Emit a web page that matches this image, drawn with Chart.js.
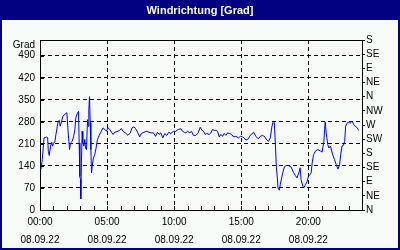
<!DOCTYPE html>
<html>
<head>
<meta charset="utf-8">
<script src="https://cdn.jsdelivr.net/npm/chart.js"></script>
<style>
  html, body { margin: 0; padding: 0; background: #000080; }
  #chart { display: block; }
</style>
</head>
<body>
<canvas id="chart" width="400" height="250"></canvas>
<script>
    // Stunde des Tages (Dezimal) und Windrichtung in Grad
    const hours = [
        0.07, 0.17, 0.30, 0.50, 0.57, 0.62, 0.69, 0.79, 0.87, 0.94, 1.01, 1.11, 1.19, 1.29, 1.36, 1.44,
        1.51, 1.61, 1.71, 1.86, 2.00, 2.10, 2.20, 2.28, 2.40, 2.50, 2.60, 2.67, 2.80, 2.87, 2.92, 2.97,
        3.02, 3.04, 3.09, 3.14, 3.19, 3.27, 3.34, 3.39, 3.47, 3.54, 3.59, 3.64, 3.69, 3.74, 3.79, 3.84,
        3.89, 3.98, 4.08, 4.18, 4.28, 4.41, 4.53, 4.70, 4.83, 4.95, 5.07, 5.20, 5.32, 5.45, 5.57, 5.74,
        5.94, 6.06, 6.19, 6.36, 6.56, 6.73, 6.86, 7.00, 7.13, 7.30, 7.43, 7.55, 7.75, 7.92, 8.12, 8.29,
        8.46, 8.61, 8.76, 8.88, 9.00, 9.15, 9.30, 9.45, 9.60, 9.75, 9.95, 10.12, 10.30, 10.50, 10.62, 10.75,
        10.87, 11.00, 11.17, 11.29, 11.44, 11.62, 11.79, 11.94, 12.07, 12.19, 12.31, 12.44, 12.61, 12.74, 12.86, 12.99,
        13.13, 13.23, 13.36, 13.48, 13.61, 13.73, 13.86, 13.98, 14.13, 14.28, 14.43, 14.60, 14.80, 14.93, 15.10, 15.22,
        15.35, 15.52, 15.67, 15.92, 16.09, 16.27, 16.42, 16.59, 16.77, 16.91, 17.04, 17.16, 17.29, 17.39, 17.46, 17.54,
        17.62, 17.69, 17.74, 17.84, 17.91, 18.01, 18.11, 18.21, 18.34, 18.51, 18.71, 18.89, 19.04, 19.16, 19.29, 19.39,
        19.46, 19.59, 19.66, 19.79, 19.91, 20.01, 20.11, 20.21, 20.29, 20.39, 20.53, 20.71, 20.91, 21.03, 21.16, 21.21,
        21.26, 21.33, 21.45, 21.53, 21.65, 21.78, 21.95, 22.08, 22.21, 22.33, 22.41, 22.51, 22.61, 22.71, 22.78, 22.90,
        23.03, 23.10, 23.20, 23.27, 23.37, 23.50, 23.65, 23.75
    ];
    const directions = [
        130, 160, 229, 232, 229, 187, 173, 203, 215, 203, 211, 218, 240, 266, 282, 285,
        266, 282, 298, 304, 309, 245, 192, 213, 218, 232, 256, 293, 309, 313, 213, 107,
        96, 35, 150, 250, 213, 203, 224, 197, 192, 287, 266, 319, 360, 277, 192, 118,
        139, 165, 176, 197, 224, 237, 247, 261, 256, 250, 261, 256, 247, 240, 247, 249,
        253, 259, 250, 245, 237, 245, 261, 264, 258, 245, 232, 243, 247, 250, 247, 245,
        245, 234, 247, 240, 245, 229, 243, 237, 247, 243, 250, 250, 256, 258, 250, 247,
        245, 250, 245, 250, 237, 237, 245, 263, 253, 250, 240, 243, 240, 245, 256, 253,
        253, 250, 232, 240, 234, 243, 237, 245, 243, 240, 232, 234, 229, 234, 232, 229,
        222, 226, 237, 247, 234, 226, 234, 237, 232, 222, 218, 229, 266, 282, 279, 213,
        134, 102, 70, 63, 81, 102, 120, 137, 141, 141, 137, 120, 109, 102, 118, 134,
        96, 76, 70, 81, 91, 107, 112, 118, 150, 176, 187, 192, 187, 184, 218, 256,
        280, 245, 208, 197, 203, 181, 160, 144, 130, 144, 176, 203, 205, 218, 266, 277,
        279, 275, 279, 282, 272, 266, 261, 253
    ];
    const gradTicks = [0, 70, 140, 210, 280, 350, 420, 490];
    const compassTicks = ['N', 'NE', 'E', 'SE', 'S', 'SW', 'W', 'NW', 'N', 'NE', 'E', 'SE', 'S'];
    const timeLabels = ['00:00', '05:00', '10:00', '15:00', '20:00'];
    const dateLabel = '08.09.22';

    const NAVY = '#000080';
    const BG = '#f8fcf8';

    Chart.defaults.font.family = "'Liberation Sans', Arial, sans-serif";
    Chart.defaults.font.size = 10;
    Chart.defaults.color = '#000';

    const points = hours.map((h, i) => ({ x: h, y: directions[i] }));

    // Rahmen, Titelband, obere Kante, kleine Ticks innen
    const frame = {
        id: 'frame',
        beforeDraw(chart) {
            const c = chart.ctx;
            c.save();
            c.fillStyle = NAVY;
            c.fillRect(0, 0, chart.width, chart.height);
            c.fillStyle = BG;
            c.fillRect(2, 20, chart.width - 4, chart.height - 22);
            c.restore();
        },
        afterDraw(chart) {
            const c = chart.ctx;
            const a = chart.chartArea;
            const xs = chart.scales.x;
            const ys = chart.scales.y;
            c.save();
            c.strokeStyle = '#000';
            c.lineWidth = 1;
            c.beginPath();
            c.moveTo(a.left, Math.round(a.top) + 0.5);
            c.lineTo(a.right, Math.round(a.top) + 0.5);
            for (let h = 1; h < 24; h++) {
                const px = Math.round(xs.getPixelForValue(h)) + 0.5;
                c.moveTo(px, a.bottom);
                c.lineTo(px, a.bottom - 4);
            }
            gradTicks.forEach(v => {
                const py = Math.round(ys.getPixelForValue(v)) + 0.5;
                c.moveTo(a.left, py);
                c.lineTo(a.left + 4, py);
            });
            c.stroke();
            c.fillStyle = '#000';
            c.font = "10px 'Liberation Sans', Arial, sans-serif";
            c.textAlign = 'right';
            c.textBaseline = 'middle';
            c.fillText('Grad', 35, 45);
            c.restore();
        }
    };

    new Chart(document.getElementById('chart'), {
        type: 'line',
        data: {
            datasets: [{
                label: 'Windrichtung',
                data: points,
                borderColor: '#0000ff',
                borderWidth: 1,
                pointRadius: 0,
                tension: 0,
                fill: false
            }]
        },
        options: {
            responsive: false,
            animation: false,
            layout: { padding: 0 },
            plugins: {
                legend: { display: false },
                tooltip: { enabled: false },
                title: {
                    display: true,
                    text: 'Windrichtung [Grad]',
                    color: '#fff',
                    font: { size: 11, weight: 'bold', lineHeight: 1 },
                    padding: { top: 5, bottom: 24 }
                }
            },
            scales: {
                x: {
                    type: 'linear',
                    min: 0,
                    max: 24,
                    afterFit(scale) { scale.height = 40; },
                    afterBuildTicks(scale) {
                        scale.ticks = [];
                        for (let h = 0; h <= 24; h++) scale.ticks.push({ value: h });
                    },
                    ticks: {
                        autoSkip: false,
                        maxRotation: 0,
                        padding: 3,
                        font: { lineHeight: 1.8 },
                        callback: v => (v % 5 === 0 && v < 24) ? [timeLabels[v / 5], dateLabel] : ''
                    },
                    grid: {
                        drawTicks: false,
                        color: ctx => (ctx.tick && ctx.tick.value % 5 === 0 && ctx.tick.value > 0 && ctx.tick.value < 24) ? '#000' : 'rgba(0,0,0,0)'
                    },
                    border: { display: true, color: '#000', dash: [4, 3] }
                },
                y: {
                    position: 'left',
                    min: 0,
                    max: 540,
                    afterFit(scale) { scale.width = 40; },
                    afterBuildTicks(scale) { scale.ticks = gradTicks.map(v => ({ value: v })); },
                    ticks: { padding: 5, autoSkip: false },
                    grid: {
                        drawTicks: false,
                        color: ctx => (ctx.tick && ctx.tick.value > 0) ? '#000' : 'rgba(0,0,0,0)'
                    },
                    border: { display: true, color: '#000', dash: [4, 3] }
                },
                y2: {
                    position: 'right',
                    min: 0,
                    max: 540,
                    afterFit(scale) { scale.width = 38; },
                    afterBuildTicks(scale) { scale.ticks = compassTicks.map((n, i) => ({ value: i * 45 })); },
                    ticks: {
                        padding: 1,
                        autoSkip: false,
                        callback: (v, i) => compassTicks[i]
                    },
                    grid: { drawOnChartArea: false, drawTicks: true, tickLength: 3, color: '#000' },
                    border: { display: true, color: '#000' }
                }
            }
        },
        plugins: [frame]
    });
</script>
</body>
</html>
